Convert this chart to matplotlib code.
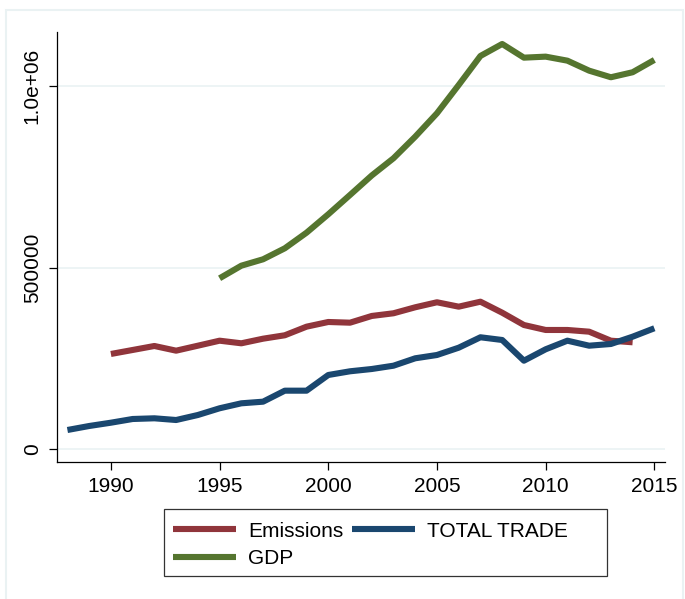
import matplotlib
matplotlib.use("Agg")
import matplotlib.pyplot as plt
from matplotlib.patches import Rectangle

plt.rcParams['font.family'] = ['Liberation Sans', 'DejaVu Sans']

# Yearly series
gdp_years = list(range(1995, 2016))
gdp = [470800, 505500, 523100, 553400, 596400, 647100, 700300, 754000,
       801400, 860900, 925300, 1003300, 1083200, 1116200, 1078500, 1081300,
       1070200, 1042700, 1024500, 1038300, 1072200]

emis_years = list(range(1990, 2015))
emissions = [262300, 273300, 284300, 271400, 285100, 298900, 291700, 304400,
             313800, 337500, 350400, 348500, 367000, 374400, 390900, 404700,
             392600, 406300, 376000, 342100, 328400, 328400, 323700, 298900,
             294500]

trade_years = list(range(1988, 2016))
total_trade = [52900, 63900, 73000, 83200, 85100, 80400, 94200, 112700,
               126400, 130900, 161200, 161200, 204400, 214600, 220900, 230000,
               250400, 259500, 279600, 308300, 300800, 243800, 275200, 298900,
               285100, 289800, 309900, 333100]

x_ticks = [1990, 1995, 2000, 2005, 2010, 2015]
y_ticks = [0, 500000, 1000000]
y_ticklabels = ["0", "500000", "1.0e+06"]

c_emis = "#90353B"
c_trade = "#1A476F"
c_gdp = "#55752F"
grid_c = "#EAF2F3"
fs = 15

W, H = 685, 599
fig = plt.figure(figsize=(W / 100, H / 100), dpi=100)
fig.patch.set_facecolor("white")

# light frame around the graph region
fig.add_artist(Rectangle((6 / W, -0.01), (683 - 6) / W, 1 - 10 / H + 0.01,
                         transform=fig.transFigure, fill=False,
                         edgecolor=grid_c, linewidth=1.5, zorder=0))

ax = fig.add_axes([57 / W, 1 - 462 / H, (665 - 57) / W, (462 - 31.7) / H])

lw = 4.4
kw = dict(linewidth=lw, solid_joinstyle="round", solid_capstyle="butt")
h_emis, = ax.plot(emis_years, emissions, color=c_emis, label="Emissions", **kw)
h_trade, = ax.plot(trade_years, total_trade, color=c_trade, label="TOTAL TRADE", **kw)
h_gdp, = ax.plot(gdp_years, gdp, color=c_gdp, label="GDP", **kw)

ax.set_xlim(1987.52, 2015.49)
ax.set_ylim(-35260, 1150000)

ax.set_xticks(x_ticks)
ax.set_yticks(y_ticks)
ax.set_yticklabels(y_ticklabels, rotation=90, va="center")
ax.tick_params(axis="both", labelsize=fs, length=6, width=0.9, color="black")
ax.tick_params(axis="x", pad=5)
ax.tick_params(axis="y", pad=5)

ax.grid(axis="y", color=grid_c, linewidth=1.2)
ax.set_axisbelow(True)
for s in ("top", "right"):
    ax.spines[s].set_visible(False)
for s in ("left", "bottom"):
    ax.spines[s].set_linewidth(0.9)
    ax.spines[s].set_color("black")

# legend box, filled row by row
fig.add_artist(Rectangle((164 / W, 1 - 576 / H), (607 - 164) / W, (576 - 509) / H,
                         transform=fig.transFigure, fill=True, facecolor="white",
                         edgecolor="#333333", linewidth=0.9, zorder=1))
leg = fig.legend([h_emis, h_gdp, h_trade], ["Emissions", "GDP", "TOTAL TRADE"],
                 loc="upper left", bbox_to_anchor=(164 / W, 1 - 513 / H),
                 ncol=2, fontsize=fs, frameon=False,
                 handlelength=3.05, handletextpad=0.56, columnspacing=0.4,
                 labelspacing=0.42, borderpad=0.42, borderaxespad=0)
leg.set_zorder(2)

fig.savefig("out.png", dpi=100, facecolor="white")
